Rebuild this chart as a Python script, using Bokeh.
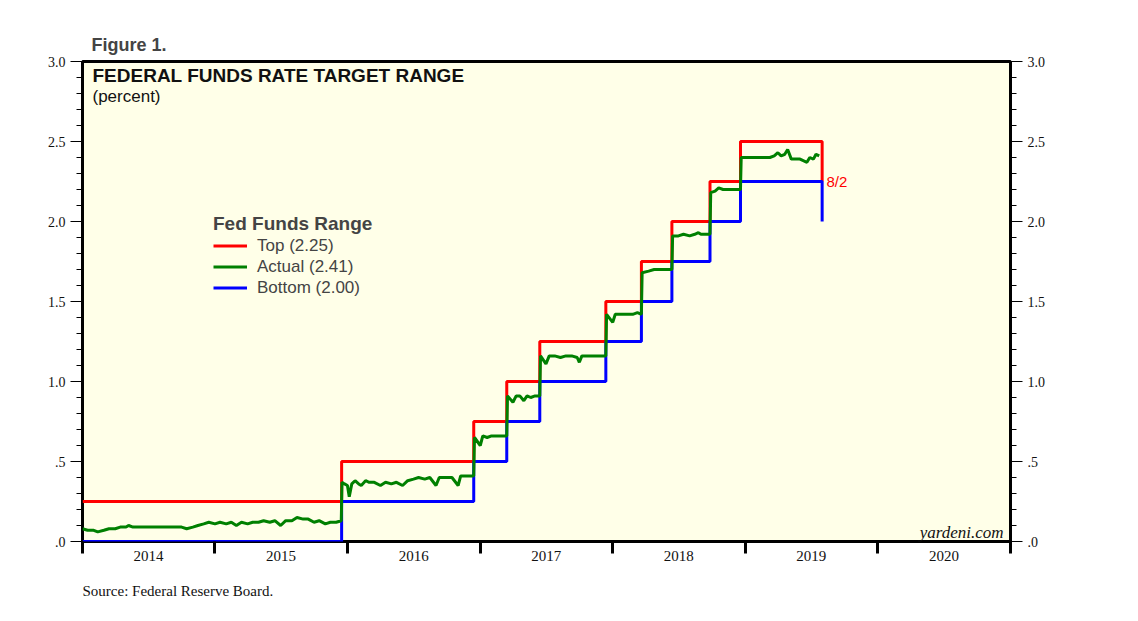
import pandas as pd
from bokeh.plotting import figure
from bokeh.models import (Range1d, FixedTicker, CustomJSTickFormatter, LinearAxis,
                          Label, Legend, LegendItem, Title)
from bokeh.embed import file_html
from bokeh.resources import INLINE

# ---------------- data ----------------
range_dates = ["2014-01-01", "2015-12-16", "2016-12-14", "2017-03-15", "2017-06-14",
               "2017-12-13", "2018-03-21", "2018-06-13", "2018-09-26", "2018-12-19",
               "2019-08-01"]
top_vals = [0.25, 0.50, 0.75, 1.00, 1.25, 1.50, 1.75, 2.00, 2.25, 2.50, 2.25]
bottom_vals = [0.00, 0.25, 0.50, 0.75, 1.00, 1.25, 1.50, 1.75, 2.00, 2.25, 2.00]

actual_dates = [
    "2014-01-01", "2014-01-15", "2014-02-01", "2014-02-12", "2014-03-01", "2014-03-15",
    "2014-04-01", "2014-04-15", "2014-05-01", "2014-05-08", "2014-05-20", "2014-06-01",
    "2014-06-15", "2014-07-01", "2014-07-15", "2014-08-01", "2014-08-15", "2014-09-01",
    "2014-09-15", "2014-10-01", "2014-10-15", "2014-11-01", "2014-11-15", "2014-12-01",
    "2014-12-15",
    "2015-01-01", "2015-01-15", "2015-02-01", "2015-02-15", "2015-03-01", "2015-03-15",
    "2015-04-01", "2015-04-15", "2015-05-01", "2015-05-15", "2015-06-01", "2015-06-15",
    "2015-07-01", "2015-07-15", "2015-08-01", "2015-08-15", "2015-09-01", "2015-09-15",
    "2015-10-01", "2015-10-15", "2015-11-01", "2015-11-15", "2015-12-01", "2015-12-15",
    "2015-12-17", "2015-12-24",
    "2016-01-01", "2016-01-06", "2016-01-13", "2016-01-22", "2016-02-01", "2016-02-08",
    "2016-02-20", "2016-03-01", "2016-03-15", "2016-04-01", "2016-04-15", "2016-05-01",
    "2016-05-15", "2016-06-01", "2016-06-15", "2016-07-01", "2016-07-15", "2016-08-01",
    "2016-08-15", "2016-09-01", "2016-09-10", "2016-10-01", "2016-10-15", "2016-11-01",
    "2016-11-08", "2016-11-20", "2016-12-01", "2016-12-14", "2016-12-16",
    "2017-01-01", "2017-01-08", "2017-01-20", "2017-02-01", "2017-02-15", "2017-03-01",
    "2017-03-15", "2017-03-17", "2017-04-01", "2017-04-10", "2017-04-20", "2017-05-01",
    "2017-05-10", "2017-05-20", "2017-06-01", "2017-06-14", "2017-06-16", "2017-07-01",
    "2017-07-10", "2017-07-25", "2017-08-10", "2017-08-25", "2017-09-10", "2017-09-25",
    "2017-10-01", "2017-10-08", "2017-10-25", "2017-11-10", "2017-11-25", "2017-12-13",
    "2017-12-15",
    "2018-01-01", "2018-01-08", "2018-01-25", "2018-02-10", "2018-02-25", "2018-03-10",
    "2018-03-21", "2018-03-23", "2018-04-10", "2018-04-25", "2018-05-10", "2018-05-25",
    "2018-06-13", "2018-06-15", "2018-07-01", "2018-07-15", "2018-08-01", "2018-08-15",
    "2018-08-25", "2018-09-01", "2018-09-15", "2018-09-26", "2018-09-28", "2018-10-10",
    "2018-10-20", "2018-11-01", "2018-11-15", "2018-12-01", "2018-12-10", "2018-12-19",
    "2018-12-21",
    "2019-01-10", "2019-01-25", "2019-02-10", "2019-02-25", "2019-03-10", "2019-03-22",
    "2019-04-01", "2019-04-10", "2019-04-20", "2019-04-28", "2019-05-08", "2019-05-20",
    "2019-06-01", "2019-06-10", "2019-06-20", "2019-06-28", "2019-07-08", "2019-07-15",
    "2019-07-24",
]
actual_vals = [
    0.08, 0.07, 0.07, 0.06, 0.07, 0.08,
    0.08, 0.09, 0.09, 0.10, 0.09, 0.09,
    0.09, 0.09, 0.09, 0.09, 0.09, 0.09,
    0.09, 0.09, 0.08, 0.09, 0.10, 0.11,
    0.12,
    0.11, 0.12, 0.11, 0.12, 0.10, 0.12,
    0.11, 0.12, 0.12, 0.13, 0.12, 0.13,
    0.10, 0.13, 0.13, 0.15, 0.14, 0.14,
    0.12, 0.13, 0.11, 0.12, 0.12, 0.13,
    0.37, 0.36,
    0.35, 0.28, 0.36, 0.38, 0.36, 0.35,
    0.38, 0.37, 0.37, 0.35, 0.37, 0.36,
    0.37, 0.35, 0.38, 0.39, 0.40, 0.39,
    0.40, 0.35, 0.40, 0.40, 0.40, 0.35,
    0.41, 0.41, 0.41, 0.41, 0.65,
    0.60, 0.66, 0.65, 0.66, 0.66, 0.66,
    0.66, 0.91, 0.87, 0.91, 0.91, 0.88,
    0.91, 0.90, 0.91, 0.91, 1.16, 1.11,
    1.16, 1.16, 1.15, 1.16, 1.16, 1.15,
    1.12, 1.16, 1.16, 1.16, 1.16, 1.16,
    1.42,
    1.37, 1.42, 1.42, 1.42, 1.42, 1.43,
    1.42, 1.68, 1.69, 1.70, 1.70, 1.70,
    1.70, 1.91, 1.91, 1.92, 1.91, 1.92,
    1.93, 1.92, 1.92, 1.92, 2.18, 2.19,
    2.21, 2.20, 2.20, 2.20, 2.20, 2.20,
    2.40,
    2.40, 2.40, 2.40, 2.40, 2.40, 2.41,
    2.43, 2.41, 2.42, 2.45, 2.39, 2.39,
    2.39, 2.38, 2.37, 2.40, 2.39, 2.42,
    2.41,
]

year_labels = ["2014", "2015", "2016", "2017", "2018", "2019", "2020"]
y_major = [0.0, 0.5, 1.0, 1.5, 2.0, 2.5, 3.0]
y_minor = [round(0.1 * i, 1) for i in range(31)]

# ---------------- figure ----------------
range_x = pd.to_datetime(range_dates)
actual_x = pd.to_datetime(actual_dates)

def ms(s):
    return pd.Timestamp(s).value // 10**6

year_starts = [ms(f"{y}-01-01") for y in year_labels] + [ms(f"{int(year_labels[-1]) + 1}-01-01")]
year_mids = [ms(f"{y}-07-02") for y in year_labels]

p = figure(frame_width=928, frame_height=480,
           x_axis_type="datetime",
           x_range=Range1d(year_starts[0], year_starts[-1]),
           y_range=Range1d(0, 3),
           output_backend="svg", toolbar_location=None,
           min_border_left=82, min_border_right=100,
           min_border_top=61, min_border_bottom=64,
           background_fill_color="#FFFFE8", border_fill_color="white")

p.xgrid.visible = False
p.ygrid.visible = False
p.outline_line_color = "black"
p.outline_line_width = 3

# title
p.title.text = "Figure 1."
p.title.text_font = "Liberation Sans"
p.title.text_font_style = "bold"
p.title.text_font_size = "18px"
p.title.align = "left"
p.title.offset = 9
p.title.standoff = 13

# x axis
xa = p.xaxis[0]
xa.ticker = FixedTicker(ticks=year_mids, minor_ticks=year_starts)
xa.formatter = CustomJSTickFormatter(code="return String(new Date(tick).getUTCFullYear());")
xa.axis_line_color = None
xa.major_tick_out = 0
xa.major_tick_in = 0
xa.major_tick_line_color = None
xa.minor_tick_out = 12
xa.minor_tick_in = 0
xa.minor_tick_line_width = 3
xa.minor_tick_line_color = "black"
xa.major_label_text_font = "Liberation Serif"
xa.major_label_text_font_size = "15px"
xa.major_label_text_color = "#111111"
xa.major_label_standoff = -3

# y axes
yfmt = CustomJSTickFormatter(code="var s = tick.toFixed(1); return tick < 1 ? s.slice(1) : s;")

def style_y(ax):
    ax.ticker = FixedTicker(ticks=y_major, minor_ticks=y_minor)
    ax.formatter = yfmt
    ax.axis_line_color = None
    ax.major_tick_out = 12
    ax.major_tick_in = 0
    ax.minor_tick_out = 6
    ax.minor_tick_in = 0
    ax.major_tick_line_color = "black"
    ax.minor_tick_line_color = "black"
    ax.major_label_text_font = "Liberation Serif"
    ax.major_label_text_font_size = "14px"
    ax.major_label_text_color = "#111111"
    ax.major_label_standoff = 5

style_y(p.yaxis[0])
ry = LinearAxis()
style_y(ry)
p.add_layout(ry, "right")

# lines
r_top = p.step(range_x, top_vals, mode="after", line_color="#FF0000", line_width=3)
r_bot = p.step(range_x, bottom_vals, mode="after", line_color="#0000FF", line_width=3)
r_act = p.line(actual_x, actual_vals, line_color="#008000", line_width=3)

legend = Legend(items=[
    LegendItem(label=f"Top ({top_vals[-1]:.2f})", renderers=[r_top]),
    LegendItem(label=f"Actual ({actual_vals[-1]:.2f})", renderers=[r_act]),
    LegendItem(label=f"Bottom ({bottom_vals[-1]:.2f})", renderers=[r_bot]),
], location=(131, 243), title="Fed Funds Range",
    title_text_font="Liberation Sans", title_text_font_style="bold",
    title_text_font_size="19px", title_standoff=0,
    label_text_font="Liberation Sans", label_text_font_size="17px",
    glyph_width=34, glyph_height=21, label_height=21, spacing=0,
    padding=0, margin=0, label_standoff=10,
    border_line_color=None, background_fill_alpha=0)
p.add_layout(legend)

p.add_layout(Label(x=10, y=477, x_units="screen", y_units="screen",
                   text="FEDERAL FUNDS RATE TARGET RANGE", text_font="Liberation Sans",
                   text_font_style="bold", text_font_size="19px", text_baseline="top",
                   text_color="#111111"))
p.add_layout(Label(x=10, y=455, x_units="screen", y_units="screen",
                   text="(percent)", text_font="Liberation Sans",
                   text_font_size="17px", text_baseline="top", text_color="#111111"))
p.add_layout(Label(x=744, y=360, x_units="screen", y_units="screen",
                   text="8/2", text_font="Liberation Sans",
                   text_font_size="15px", text_baseline="middle", text_color="#FF0000"))
p.add_layout(Label(x=921, y=9, x_units="screen", y_units="screen",
                   text="yardeni.com", text_font="Liberation Serif",
                   text_font_style="italic", text_font_size="17px",
                   text_align="right", text_baseline="alphabetic", text_color="#111111"))

src = Title(text="Source: Federal Reserve Board.", align="left",
            text_font="Liberation Serif", text_font_size="15px",
            text_font_style="normal", standoff=34, text_color="#111111")
p.add_layout(src, "below")

open("out.html", "w").write(file_html(p, INLINE))
